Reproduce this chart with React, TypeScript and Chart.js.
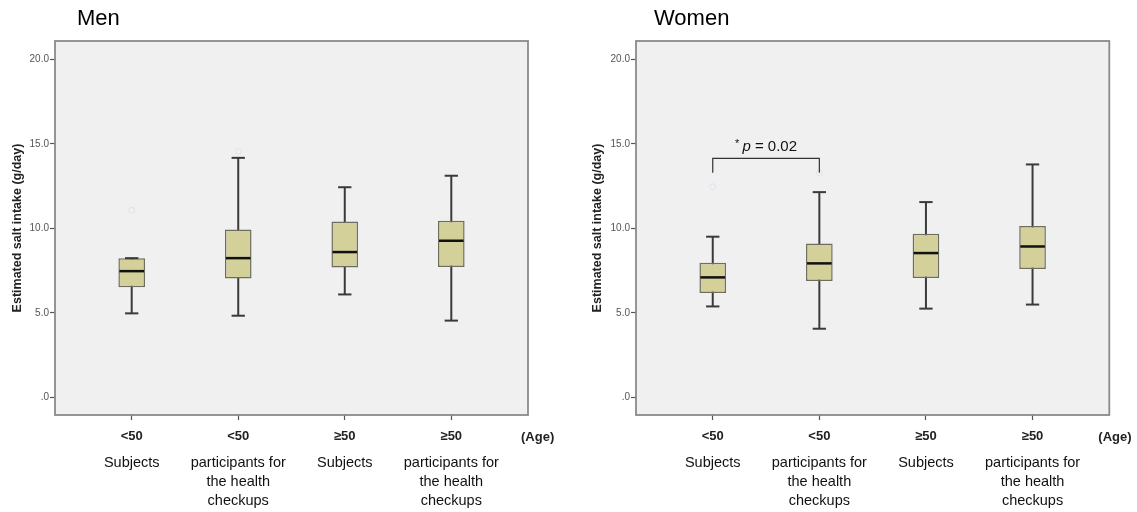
import React, { useEffect, useRef } from "react";
import { Chart, registerables } from "chart.js";

Chart.register(...registerables);

const FONT = "'Liberation Sans', Arial, Helvetica, sans-serif";

// ---- data ----
const positions = [0, 1, 2, 3];
const ageLabels = ["<50", "<50", "≥50", "≥50"];
const groupLabels = [
  ["Subjects"],
  ["participants for", "the health", "checkups"],
  ["Subjects"],
  ["participants for", "the health", "checkups"],
];
const yTicks = [0, 5, 10, 15, 20];
const yTickLabels = [".0", "5.0", "10.0", "15.0", "20.0"];
const yTitle = "Estimated salt intake (g/day)";
const ageTitle = "(Age)";

const menLow = [4.97, 4.83, 6.09, 4.54];
const menQ1 = [6.51, 7.04, 7.69, 7.71];
const menMed = [7.47, 8.24, 8.6, 9.27];
const menQ3 = [8.24, 9.94, 10.41, 10.45];
const menHigh = [8.24, 14.18, 12.44, 13.12];
const menOutX = [0, 1];
const menOutY = [11.08, 14.57];

const womenLow = [5.38, 4.06, 5.25, 5.49];
const womenQ1 = [6.17, 6.88, 7.06, 7.59];
const womenMed = [7.1, 7.93, 8.54, 8.93];
const womenQ3 = [7.97, 9.11, 9.69, 10.14];
const womenHigh = [9.51, 12.15, 11.56, 13.79];
const womenOutX = [0, 1];
const womenOutY = [12.47, 13.3];

const sigPair = [0, 1];
const sigTop = 14.15;
const sigLeg = 13.3;
const sigStar = "*";
const sigP = "p";
const sigRest = " = 0.02";

type Panel = {
  title: string;
  low: number[];
  q1: number[];
  med: number[];
  q3: number[];
  high: number[];
  outX: number[];
  outY: number[];
  width: number;
  yWidth: number;
  rightPad: number;
  titleX: number;
  ageOffset: number;
  yTitlePad: number;
  sig: boolean;
};

function makePlugin(p: Panel) {
  return {
    id: "boxExtras",
    beforeDraw(chart: any) {
      const { ctx, chartArea: a } = chart;
      ctx.save();
      ctx.fillStyle = "#f0f0f0";
      ctx.fillRect(a.left, a.top, a.right - a.left, a.bottom - a.top);
      ctx.restore();
    },
    beforeDatasetsDraw(chart: any) {
      const { ctx } = chart;
      const xs = chart.scales.x;
      const ys = chart.scales.y;
      ctx.save();
      ctx.strokeStyle = "#3a3a3a";
      ctx.lineWidth = 2;
      positions.forEach((pos, i) => {
        const x = xs.getPixelForValue(pos);
        ctx.beginPath();
        ctx.moveTo(x, ys.getPixelForValue(p.low[i]));
        ctx.lineTo(x, ys.getPixelForValue(p.high[i]));
        ctx.stroke();
      });
      ctx.restore();
    },
    afterDatasetsDraw(chart: any) {
      const { ctx } = chart;
      const xs = chart.scales.x;
      const ys = chart.scales.y;
      const meta = chart.getDatasetMeta(0);
      ctx.save();
      positions.forEach((pos, i) => {
        const x = xs.getPixelForValue(pos);
        const w = meta.data[i] ? meta.data[i].width : 26;
        ctx.strokeStyle = "#3a3a3a";
        ctx.lineWidth = 2;
        [p.low[i], p.high[i]].forEach((v) => {
          const y = ys.getPixelForValue(v);
          ctx.beginPath();
          ctx.moveTo(x - w / 4, y);
          ctx.lineTo(x + w / 4, y);
          ctx.stroke();
        });
        const ym = ys.getPixelForValue(p.med[i]);
        ctx.strokeStyle = "#111";
        ctx.lineWidth = 2.5;
        ctx.beginPath();
        ctx.moveTo(x - w / 2 + 1, ym);
        ctx.lineTo(x + w / 2 - 1, ym);
        ctx.stroke();
      });
      ctx.restore();
    },
    afterDraw(chart: any) {
      const { ctx, chartArea: a } = chart;
      const xs = chart.scales.x;
      const ys = chart.scales.y;
      ctx.save();
      ctx.strokeStyle = "#8a8a8a";
      ctx.lineWidth = 1.8;
      ctx.strokeRect(a.left, a.top, a.right - a.left, a.bottom - a.top);
      ctx.fillStyle = "#000";
      ctx.font = `22px ${FONT}`;
      ctx.textAlign = "left";
      ctx.textBaseline = "alphabetic";
      ctx.fillText(p.title, p.titleX, 25);
      ctx.font = `bold 13px ${FONT}`;
      ctx.fillStyle = "#222";
      ctx.textBaseline = "middle";
      ctx.fillText(ageTitle, a.right + p.ageOffset, 437);
      if (p.sig) {
        const x0 = xs.getPixelForValue(sigPair[0]);
        const x1 = xs.getPixelForValue(sigPair[1]);
        const yt = ys.getPixelForValue(sigTop);
        const yl = ys.getPixelForValue(sigLeg);
        ctx.strokeStyle = "#333";
        ctx.lineWidth = 1.2;
        ctx.beginPath();
        ctx.moveTo(x0, yl);
        ctx.lineTo(x0, yt);
        ctx.lineTo(x1, yt);
        ctx.lineTo(x1, yl);
        ctx.stroke();
        const fStar = `11px ${FONT}`;
        const fP = `italic 15px ${FONT}`;
        const fR = `15px ${FONT}`;
        ctx.font = fStar;
        const wS = ctx.measureText(sigStar + " ").width;
        ctx.font = fP;
        const wP = ctx.measureText(sigP).width;
        ctx.font = fR;
        const wR = ctx.measureText(sigRest).width;
        let cx = (x0 + x1) / 2 - (wS + wP + wR) / 2;
        const base = yt - 7;
        ctx.fillStyle = "#111";
        ctx.textBaseline = "alphabetic";
        ctx.font = fStar;
        ctx.fillText(sigStar, cx, base - 4);
        cx += wS;
        ctx.font = fP;
        ctx.fillText(sigP, cx, base);
        cx += wP;
        ctx.font = fR;
        ctx.fillText(sigRest, cx, base);
      }
      ctx.restore();
    },
  };
}

function BoxPanel({ p }: { p: Panel }) {
  const ref = useRef<HTMLCanvasElement | null>(null);
  useEffect(() => {
    if (!ref.current) return;
    const xMin = -0.72;
    const xMax = 3.72;
    const chart = new Chart(ref.current, {
      type: "bar",
      data: {
        datasets: [
          {
            type: "bar",
            data: positions.map((pos, i) => ({ x: pos, y: [p.q1[i], p.q3[i]] })) as any,
            backgroundColor: "#d4d09a",
            borderColor: "#6e6e60",
            borderWidth: 1.5,
            borderSkipped: false,
            categoryPercentage: 1,
            barPercentage: 0.25,
          } as any,
          {
            type: "scatter",
            data: p.outX.map((xv, i) => ({ x: xv, y: p.outY[i] })),
            pointRadius: 3,
            pointBorderWidth: 1,
            borderColor: "rgba(212,225,240,0.8)",
            backgroundColor: "rgba(0,0,0,0)",
          } as any,
        ],
      },
      options: {
        animation: false,
        responsive: false,
        devicePixelRatio: 1,
        layout: { padding: { top: 41, right: p.rightPad, left: 0, bottom: 0 } },
        plugins: {
          legend: { display: false },
          tooltip: { enabled: false },
          title: { display: false },
        },
        scales: {
          x: {
            type: "linear",
            position: "bottom",
            min: xMin,
            max: xMax,
            offset: false,
            afterBuildTicks: (s: any) => {
              s.ticks = positions.map((v) => ({ value: v }));
            },
            afterFit: (s: any) => {
              s.height = 32;
            },
            ticks: {
              callback: (v: any) => ageLabels[positions.indexOf(Number(v))] ?? "",
              font: { family: FONT, size: 13, weight: "bold" },
              color: "#222",
              padding: 9,
              maxRotation: 0,
              autoSkip: false,
            },
            grid: {
              display: true,
              offset: false,
              drawOnChartArea: false,
              drawTicks: true,
              tickLength: 5,
              tickColor: "#555",
              tickWidth: 1.2,
            },
            border: { display: false },
          },
          x2: {
            type: "linear",
            position: "bottom",
            min: xMin,
            max: xMax,
            offset: false,
            afterBuildTicks: (s: any) => {
              s.ticks = positions.map((v) => ({ value: v }));
            },
            afterFit: (s: any) => {
              s.height = 65;
            },
            ticks: {
              callback: (v: any) => groupLabels[positions.indexOf(Number(v))] ?? "",
              font: { family: FONT, size: 14.5, lineHeight: "19px" },
              color: "#111",
              padding: 6.5,
              maxRotation: 0,
              autoSkip: false,
            },
            grid: { display: false, offset: false, drawTicks: false, tickLength: 0 },
            border: { display: false },
          },
          y: {
            type: "linear",
            min: -1.05,
            max: 21.1,
            afterBuildTicks: (s: any) => {
              s.ticks = yTicks.map((v) => ({ value: v }));
            },
            afterFit: (s: any) => {
              s.width = p.yWidth;
            },
            ticks: {
              callback: (v: any) => yTickLabels[yTicks.indexOf(Number(v))] ?? "",
              font: { family: FONT, size: 10 },
              color: "#555",
              padding: 1,
            },
            grid: {
              display: true,
              drawOnChartArea: false,
              drawTicks: true,
              tickLength: 5,
              tickColor: "#555",
              tickWidth: 1.2,
            },
            border: { display: false },
            title: {
              display: true,
              text: yTitle,
              font: { family: FONT, size: 12.5, weight: "bold" },
              color: "#222",
              padding: { top: p.yTitlePad, bottom: 0 },
            },
          },
        },
      } as any,
      plugins: [makePlugin(p)],
    });
    return () => chart.destroy();
  }, [p]);
  return <canvas ref={ref} width={p.width} height={512} style={{ display: "block" }} />;
}

const menPanel: Panel = {
  title: "Men",
  low: menLow,
  q1: menQ1,
  med: menMed,
  q3: menQ3,
  high: menHigh,
  outX: menOutX,
  outY: menOutY,
  width: 575,
  yWidth: 55,
  rightPad: 47,
  titleX: 77,
  ageOffset: -7,
  yTitlePad: 10,
  sig: false,
};

const womenPanel: Panel = {
  title: "Women",
  low: womenLow,
  q1: womenQ1,
  med: womenMed,
  q3: womenQ3,
  high: womenHigh,
  outX: womenOutX,
  outY: womenOutY,
  width: 562,
  yWidth: 61,
  rightPad: 27.7,
  titleX: 79,
  ageOffset: -11,
  yTitlePad: 15,
  sig: true,
};

export default function App() {
  return (
    <div
      style={{
        position: "absolute",
        left: 0,
        top: 0,
        width: 1137,
        height: 512,
        background: "#fff",
        display: "flex",
        fontFamily: FONT,
      }}
    >
      <BoxPanel p={menPanel} />
      <BoxPanel p={womenPanel} />
    </div>
  );
}
